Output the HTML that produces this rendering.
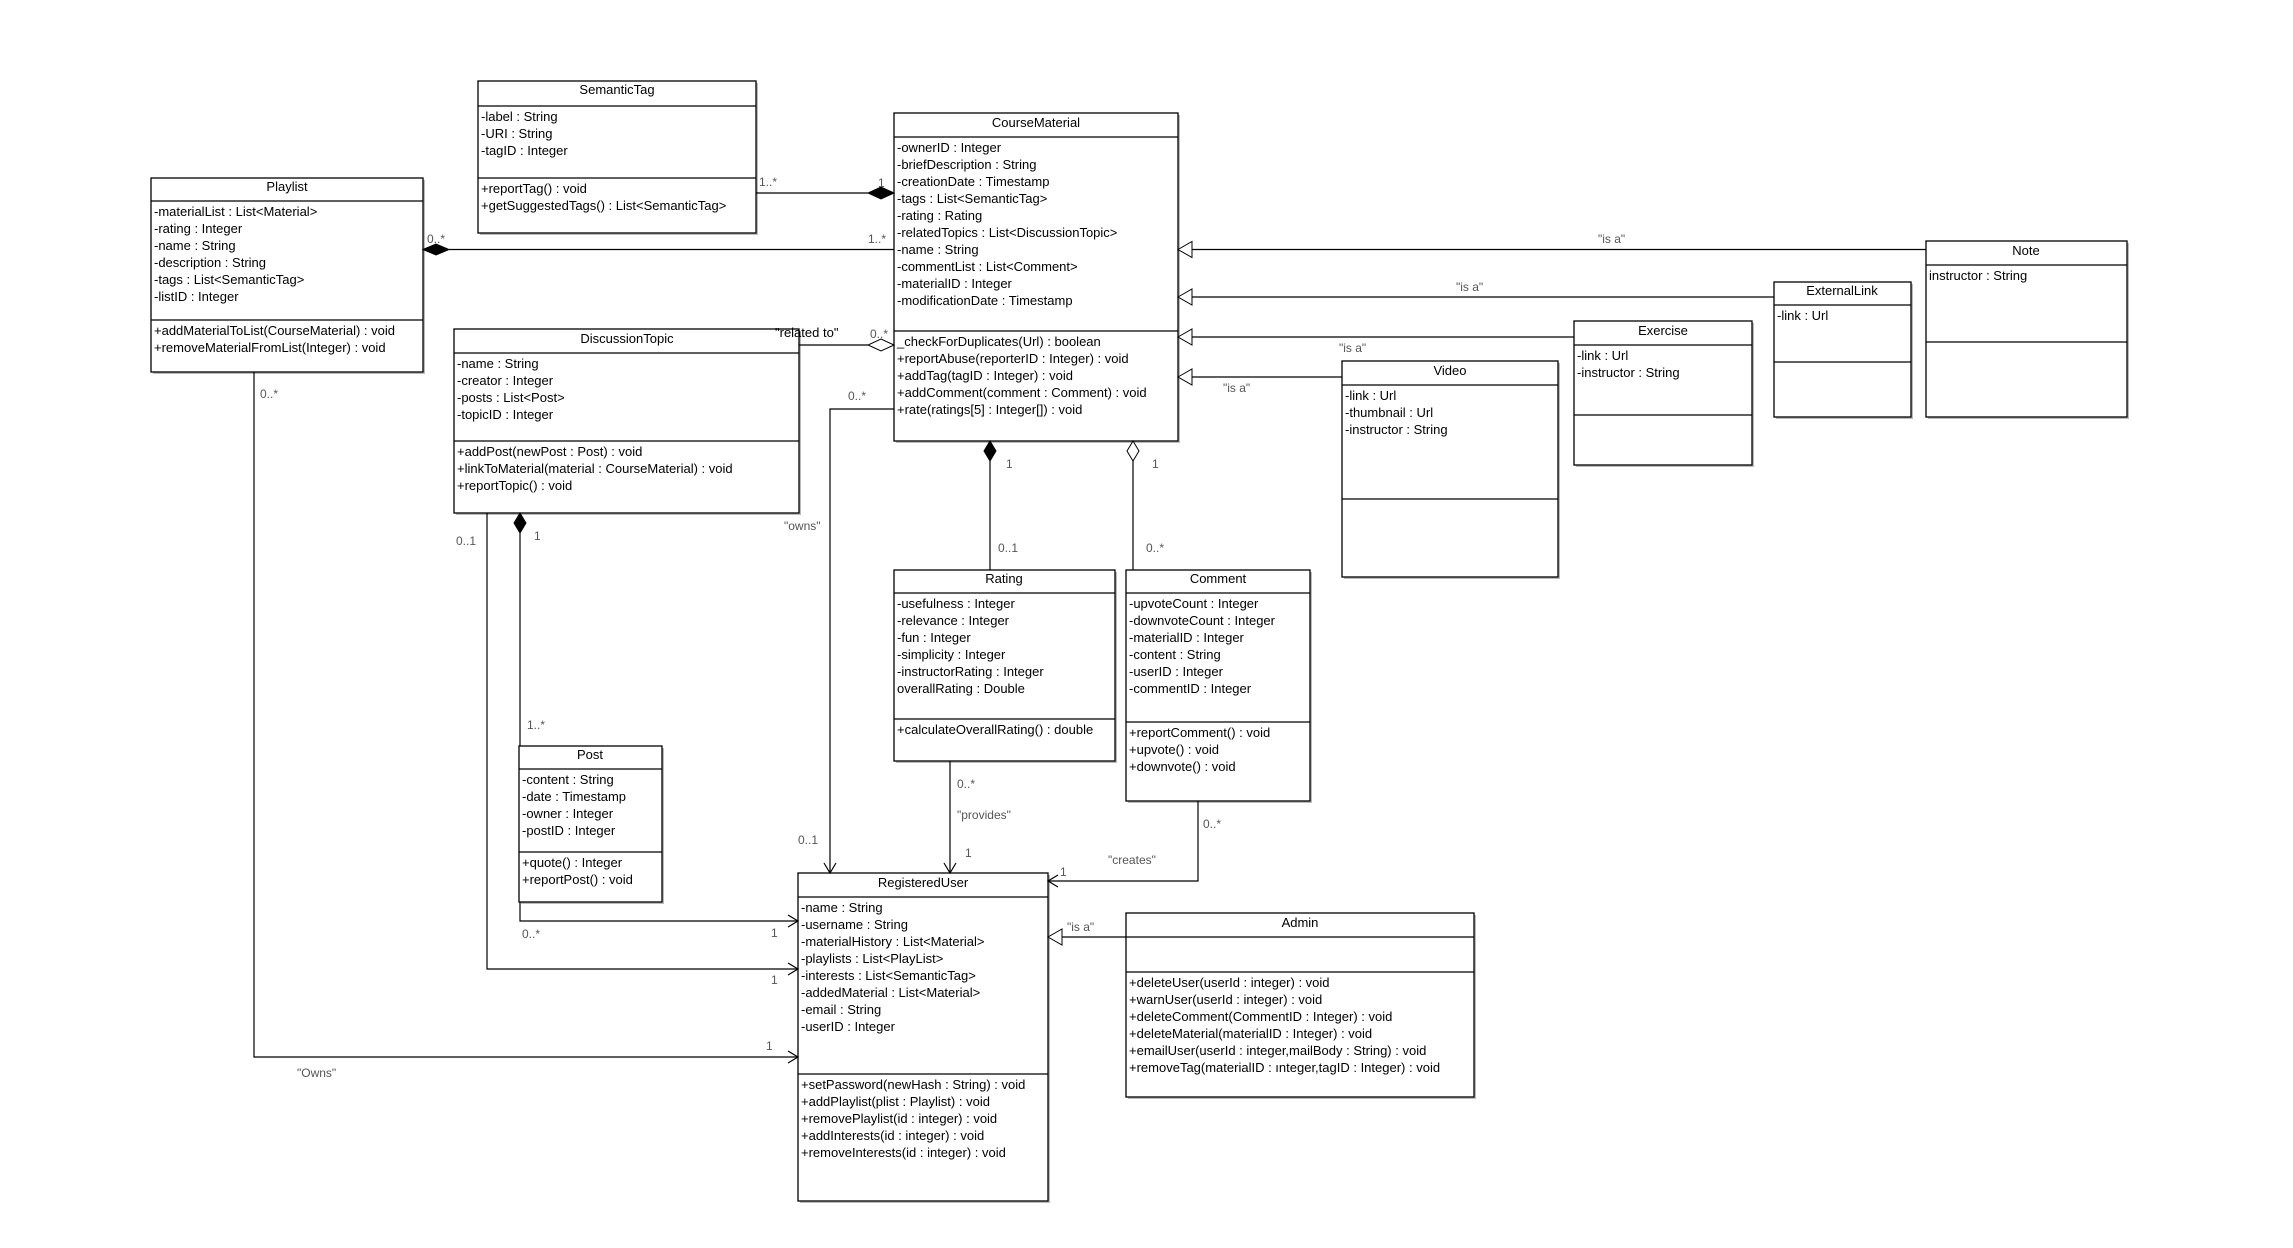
<!DOCTYPE html>
<html><head><meta charset="utf-8"><style>
html,body{margin:0;padding:0;background:#fff;}
svg{display:block;}
text{font-family:"Liberation Sans",sans-serif;font-size:13px;fill:#000;}
.m{fill:#555;font-size:12px;}
.c{text-anchor:middle;}
rect{fill:#fff;stroke:#000;stroke-width:1.3;}
.sh{fill:#bbb;stroke:none;}
line,polyline{stroke:#000;stroke-width:1.2;fill:none;}
</style></head><body>
<svg width="2293" height="1248" viewBox="0 0 2293 1248" xmlns="http://www.w3.org/2000/svg">

<!-- SemanticTag -->
<rect class="sh" x="480" y="83" width="278" height="152"/>
<rect x="478" y="81" width="278" height="152"/>
<line x1="478" y1="106" x2="756" y2="106"/><line x1="478" y1="178" x2="756" y2="178"/>
<text class="c" x="617" y="94">SemanticTag</text>
<text x="481" y="121">-label : String</text><text x="481" y="138">-URI : String</text><text x="481" y="155">-tagID : Integer</text>
<text x="481" y="193">+reportTag() : void</text><text x="481" y="210">+getSuggestedTags() : List&lt;SemanticTag&gt;</text>

<!-- Playlist -->
<rect class="sh" x="153" y="180" width="272" height="194"/>
<rect x="151" y="178" width="272" height="194"/>
<line x1="151" y1="201" x2="423" y2="201"/><line x1="151" y1="320" x2="423" y2="320"/>
<text class="c" x="287" y="191">Playlist</text>
<text x="154" y="216">-materialList : List&lt;Material&gt;</text>
<text x="154" y="233">-rating : Integer</text>
<text x="154" y="250">-name : String</text>
<text x="154" y="267">-description : String</text>
<text x="154" y="284">-tags : List&lt;SemanticTag&gt;</text>
<text x="154" y="301">-listID : Integer</text>
<text x="154" y="335">+addMaterialToList(CourseMaterial) : void</text>
<text x="154" y="352">+removeMaterialFromList(Integer) : void</text>

<!-- CourseMaterial -->
<rect class="sh" x="896" y="115" width="284" height="328"/>
<rect x="894" y="113" width="284" height="328"/>
<line x1="894" y1="137" x2="1178" y2="137"/><line x1="894" y1="331" x2="1178" y2="331"/>
<text class="c" x="1036" y="127">CourseMaterial</text>
<text x="897" y="152">-ownerID : Integer</text>
<text x="897" y="169">-briefDescription : String</text>
<text x="897" y="186">-creationDate : Timestamp</text>
<text x="897" y="203">-tags : List&lt;SemanticTag&gt;</text>
<text x="897" y="220">-rating : Rating</text>
<text x="897" y="237">-relatedTopics : List&lt;DiscussionTopic&gt;</text>
<text x="897" y="254">-name : String</text>
<text x="897" y="271">-commentList : List&lt;Comment&gt;</text>
<text x="897" y="288">-materialID : Integer</text>
<text x="897" y="305">-modificationDate : Timestamp</text>
<text x="897" y="346">_checkForDuplicates(Url) : boolean</text>
<text x="897" y="363">+reportAbuse(reporterID : Integer) : void</text>
<text x="897" y="380">+addTag(tagID : Integer) : void</text>
<text x="897" y="397">+addComment(comment : Comment) : void</text>
<text x="897" y="414">+rate(ratings[5] : Integer[]) : void</text>

<!-- DiscussionTopic -->
<rect class="sh" x="456" y="331" width="345" height="184"/>
<rect x="454" y="329" width="345" height="184"/>
<line x1="454" y1="353" x2="799" y2="353"/><line x1="454" y1="441" x2="799" y2="441"/>
<text class="c" x="627" y="343">DiscussionTopic</text>
<text x="457" y="368">-name : String</text>
<text x="457" y="385">-creator : Integer</text>
<text x="457" y="402">-posts : List&lt;Post&gt;</text>
<text x="457" y="419">-topicID : Integer</text>
<text x="457" y="456">+addPost(newPost : Post) : void</text>
<text x="457" y="473">+linkToMaterial(material : CourseMaterial) : void</text>
<text x="457" y="490">+reportTopic() : void</text>

<!-- Note -->
<rect class="sh" x="1928" y="243" width="201" height="176"/>
<rect x="1926" y="241" width="201" height="176"/>
<line x1="1926" y1="265" x2="2127" y2="265"/><line x1="1926" y1="342" x2="2127" y2="342"/>
<text class="c" x="2026" y="255">Note</text>
<text x="1929" y="280">instructor : String</text>

<!-- ExternalLink -->
<rect class="sh" x="1776" y="284" width="137" height="135"/>
<rect x="1774" y="282" width="137" height="135"/>
<line x1="1774" y1="305" x2="1911" y2="305"/><line x1="1774" y1="362" x2="1911" y2="362"/>
<text class="c" x="1842" y="295">ExternalLink</text>
<text x="1777" y="320">-link : Url</text>

<!-- Exercise -->
<rect class="sh" x="1576" y="323" width="178" height="144"/>
<rect x="1574" y="321" width="178" height="144"/>
<line x1="1574" y1="345" x2="1752" y2="345"/><line x1="1574" y1="415" x2="1752" y2="415"/>
<text class="c" x="1663" y="335">Exercise</text>
<text x="1577" y="360">-link : Url</text>
<text x="1577" y="377">-instructor : String</text>

<!-- Video -->
<rect class="sh" x="1344" y="363" width="216" height="216"/>
<rect x="1342" y="361" width="216" height="216"/>
<line x1="1342" y1="385" x2="1558" y2="385"/><line x1="1342" y1="499" x2="1558" y2="499"/>
<text class="c" x="1450" y="375">Video</text>
<text x="1345" y="400">-link : Url</text>
<text x="1345" y="417">-thumbnail : Url</text>
<text x="1345" y="434">-instructor : String</text>

<!-- Rating -->
<rect class="sh" x="896" y="572" width="221" height="191"/>
<rect x="894" y="570" width="221" height="191"/>
<line x1="894" y1="593" x2="1115" y2="593"/><line x1="894" y1="719" x2="1115" y2="719"/>
<text class="c" x="1004" y="583">Rating</text>
<text x="897" y="608">-usefulness : Integer</text>
<text x="897" y="625">-relevance : Integer</text>
<text x="897" y="642">-fun : Integer</text>
<text x="897" y="659">-simplicity : Integer</text>
<text x="897" y="676">-instructorRating : Integer</text>
<text x="897" y="693">overallRating : Double</text>
<text x="897" y="734">+calculateOverallRating() : double</text>

<!-- Comment -->
<rect class="sh" x="1128" y="572" width="184" height="231"/>
<rect x="1126" y="570" width="184" height="231"/>
<line x1="1126" y1="593" x2="1310" y2="593"/><line x1="1126" y1="722" x2="1310" y2="722"/>
<text class="c" x="1218" y="583">Comment</text>
<text x="1129" y="608">-upvoteCount : Integer</text>
<text x="1129" y="625">-downvoteCount : Integer</text>
<text x="1129" y="642">-materialID : Integer</text>
<text x="1129" y="659">-content : String</text>
<text x="1129" y="676">-userID : Integer</text>
<text x="1129" y="693">-commentID : Integer</text>
<text x="1129" y="737">+reportComment() : void</text>
<text x="1129" y="754">+upvote() : void</text>
<text x="1129" y="771">+downvote() : void</text>

<!-- Post -->
<rect class="sh" x="521" y="748" width="143" height="156"/>
<rect x="519" y="746" width="143" height="156"/>
<line x1="519" y1="769" x2="662" y2="769"/><line x1="519" y1="852" x2="662" y2="852"/>
<text class="c" x="590" y="759">Post</text>
<text x="522" y="784">-content : String</text>
<text x="522" y="801">-date : Timestamp</text>
<text x="522" y="818">-owner : Integer</text>
<text x="522" y="835">-postID : Integer</text>
<text x="522" y="867">+quote() : Integer</text>
<text x="522" y="884">+reportPost() : void</text>

<!-- RegisteredUser -->
<rect class="sh" x="800" y="875" width="250" height="328"/>
<rect x="798" y="873" width="250" height="328"/>
<line x1="798" y1="897" x2="1048" y2="897"/><line x1="798" y1="1074" x2="1048" y2="1074"/>
<text class="c" x="923" y="887">RegisteredUser</text>
<text x="801" y="912">-name : String</text>
<text x="801" y="929">-username : String</text>
<text x="801" y="946">-materialHistory : List&lt;Material&gt;</text>
<text x="801" y="963">-playlists : List&lt;PlayList&gt;</text>
<text x="801" y="980">-interests : List&lt;SemanticTag&gt;</text>
<text x="801" y="997">-addedMaterial : List&lt;Material&gt;</text>
<text x="801" y="1014">-email : String</text>
<text x="801" y="1031">-userID : Integer</text>
<text x="801" y="1089">+setPassword(newHash : String) : void</text>
<text x="801" y="1106">+addPlaylist(plist : Playlist) : void</text>
<text x="801" y="1123">+removePlaylist(id : integer) : void</text>
<text x="801" y="1140">+addInterests(id : integer) : void</text>
<text x="801" y="1157">+removeInterests(id : integer) : void</text>

<!-- Admin -->
<rect class="sh" x="1128" y="915" width="348" height="184"/>
<rect x="1126" y="913" width="348" height="184"/>
<line x1="1126" y1="937" x2="1474" y2="937"/><line x1="1126" y1="972" x2="1474" y2="972"/>
<text class="c" x="1300" y="927">Admin</text>
<text x="1129" y="987">+deleteUser(userId : integer) : void</text>
<text x="1129" y="1004">+warnUser(userId : integer) : void</text>
<text x="1129" y="1021">+deleteComment(CommentID : Integer) : void</text>
<text x="1129" y="1038">+deleteMaterial(materialID : Integer) : void</text>
<text x="1129" y="1055">+emailUser(userId : integer,mailBody : String) : void</text>
<text x="1129" y="1072">+removeTag(materialID : ınteger,tagID : Integer) : void</text>

<!-- Connectors -->
<!-- SemanticTag - CourseMaterial -->
<line x1="756" y1="193" x2="868" y2="193"/>
<polygon points="894,193 881,187 868,193 881,199" fill="#000" stroke="#000"/>
<text class="m" x="759" y="186">1..*</text><text class="m" x="878" y="187">1</text>
<!-- Playlist - CourseMaterial -->
<line x1="449" y1="249.5" x2="894" y2="249.5"/>
<polygon points="423,249.5 436,244 449,249.5 436,255" fill="#000" stroke="#000"/>
<text class="m" x="427" y="243">0..*</text><text class="m" x="868" y="243">1..*</text>
<!-- DiscussionTopic - CourseMaterial -->
<line x1="799" y1="345" x2="868" y2="345"/>
<polygon points="894,345 881,339 868,345 881,351" fill="#fff" stroke="#000"/>
<text x="775" y="337">"related to"</text><text class="m" x="870" y="338">0..*</text>
<!-- owns -->
<polyline points="894,409 830,409 830,873"/>
<polyline points="824,863 830,873 836,863"/>
<text class="m" x="848" y="400">0..*</text><text class="m" x="784" y="530">"owns"</text><text class="m" x="798" y="844">0..1</text>
<!-- Rating composition -->
<line x1="990" y1="461" x2="990" y2="570"/>
<polygon points="990,441 996,451 990,461 984,451" fill="#000" stroke="#000"/>
<text class="m" x="1006" y="468">1</text><text class="m" x="998" y="552">0..1</text>
<!-- Comment aggregation -->
<line x1="1133" y1="461" x2="1133" y2="570"/>
<polygon points="1133,441 1139,451 1133,461 1127,451" fill="#fff" stroke="#000"/>
<text class="m" x="1152" y="468">1</text><text class="m" x="1146" y="552">0..*</text>
<!-- Generalizations to CourseMaterial -->
<line x1="1192" y1="249.5" x2="1926" y2="249.5"/>
<polygon points="1178,249.5 1192,241.5 1192,257.5" fill="#fff" stroke="#000"/>
<text class="m" x="1598" y="243">"is a"</text>
<line x1="1192" y1="297" x2="1774" y2="297"/>
<polygon points="1178,297 1192,289 1192,305" fill="#fff" stroke="#000"/>
<text class="m" x="1456" y="291">"is a"</text>
<line x1="1192" y1="337" x2="1574" y2="337"/>
<polygon points="1178,337 1192,329 1192,345" fill="#fff" stroke="#000"/>
<text class="m" x="1339" y="352">"is a"</text>
<line x1="1192" y1="377" x2="1342" y2="377"/>
<polygon points="1178,377 1192,369 1192,385" fill="#fff" stroke="#000"/>
<text class="m" x="1223" y="392">"is a"</text>
<!-- Playlist owns -->
<polyline points="254,372 254,1057 798,1057"/>
<polyline points="788,1051 798,1057 788,1063"/>
<text class="m" x="260" y="398">0..*</text><text class="m" x="766" y="1050">1</text><text class="m" x="297" y="1077">"Owns"</text>
<!-- DiscussionTopic 0..1 -->
<polyline points="487,513 487,969 798,969"/>
<polyline points="788,963 798,969 788,975"/>
<text class="m" x="456" y="545">0..1</text><text class="m" x="771" y="984">1</text>
<!-- DT - Post composition -->
<line x1="520" y1="533" x2="520" y2="746"/>
<polygon points="520,513 526,523 520,533 514,523" fill="#000" stroke="#000"/>
<text class="m" x="534" y="540">1</text><text class="m" x="527" y="729">1..*</text>
<!-- Post - User -->
<polyline points="520,902 520,921 798,921"/>
<polyline points="788,915 798,921 788,927"/>
<text class="m" x="522" y="938">0..*</text><text class="m" x="771" y="937">1</text>
<!-- Rating provides -->
<line x1="950" y1="761" x2="950" y2="873"/>
<polyline points="944,863 950,873 956,863"/>
<text class="m" x="957" y="788">0..*</text><text class="m" x="957" y="819">"provides"</text><text class="m" x="965" y="857">1</text>
<!-- Comment creates -->
<polyline points="1198,801 1198,881 1048,881"/>
<polyline points="1058,875 1048,881 1058,887"/>
<text class="m" x="1203" y="828">0..*</text><text class="m" x="1108" y="864">"creates"</text><text class="m" x="1060" y="876">1</text>
<!-- Admin is a -->
<line x1="1062" y1="937" x2="1126" y2="937"/>
<polygon points="1048,937 1062,929 1062,945" fill="#fff" stroke="#000"/>
<text class="m" x="1067" y="931">"is a"</text>
</svg>
</body></html>
